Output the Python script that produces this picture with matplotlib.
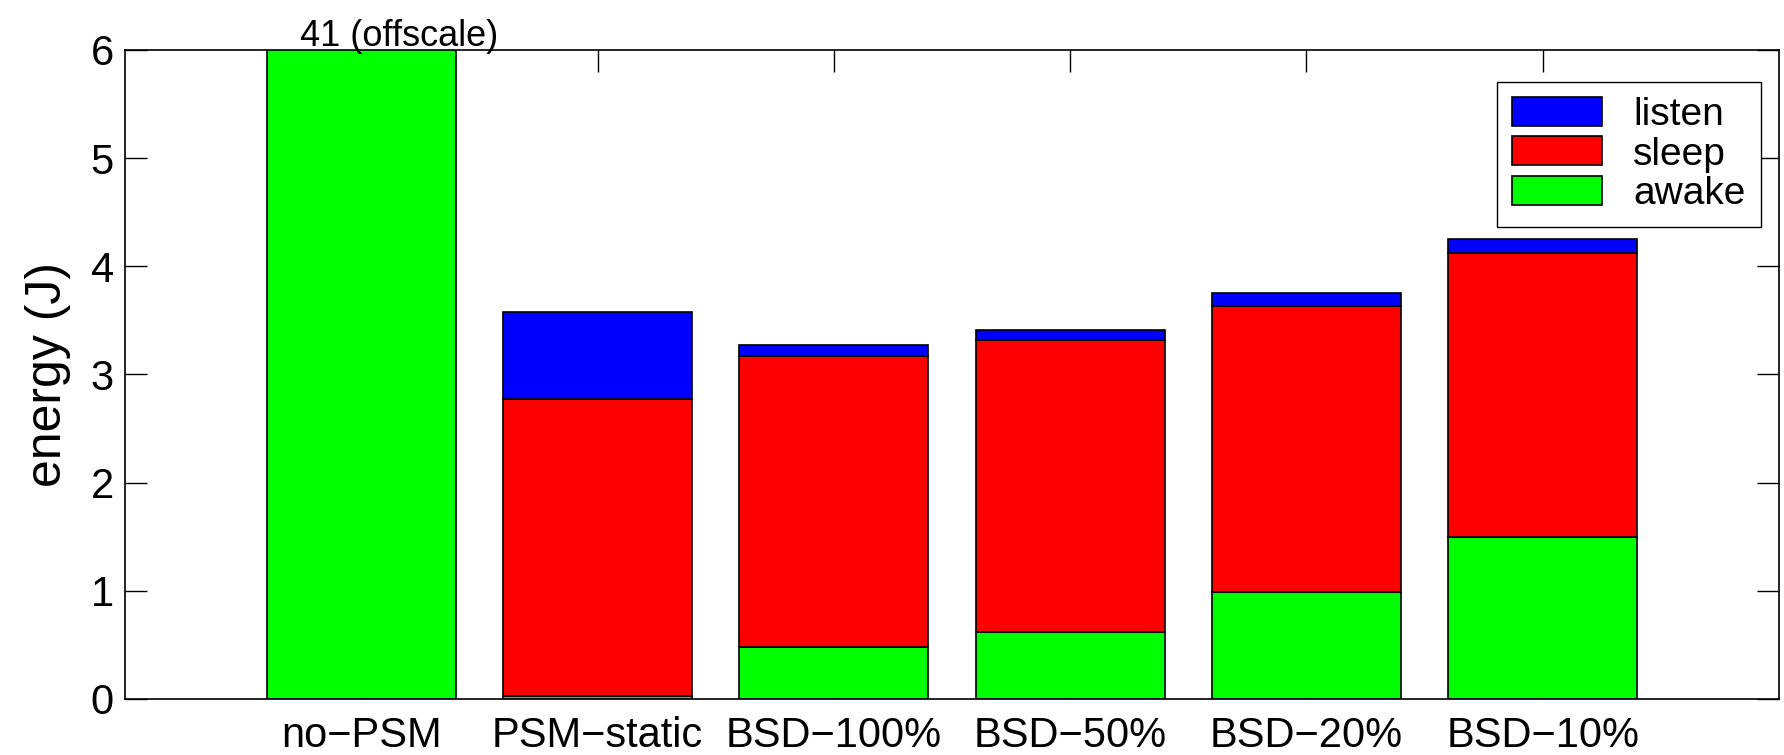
import matplotlib
matplotlib.use("Agg")
import matplotlib.pyplot as plt
import numpy as np

plt.rcParams['font.family'] = ['Liberation Sans', 'DejaVu Sans']

schemes = ["no\u2212PSM", "PSM\u2212static", "BSD\u2212100%", "BSD\u221250%", "BSD\u221220%", "BSD\u221210%"]
awake = [41.0, 0.03, 0.48, 0.62, 0.99, 1.50]
sleep = [0.0, 2.74, 2.69, 2.70, 2.64, 2.62]
listen = [0.0, 0.81, 0.10, 0.09, 0.12, 0.13]

fig = plt.figure(figsize=(17.84, 7.55), dpi=100)
ax = fig.add_axes([0.0701, 0.0742, 0.9271, 0.8596])
ax.set_axisbelow(True)

x = np.arange(1, len(schemes) + 1)
awake = np.array(awake)
sleep = np.array(sleep)
listen = np.array(listen)

b1 = ax.bar(x, awake, 0.8, color='#00ff00', edgecolor='black', linewidth=1.2, label='awake')
b2 = ax.bar(x, sleep, 0.8, bottom=awake, color='#ff0000', edgecolor='black', linewidth=1.2, label='sleep')
b3 = ax.bar(x, listen, 0.8, bottom=awake + sleep, color='#0000ff', edgecolor='black', linewidth=1.2, label='listen')

ax.set_xlim(0, 7)
ax.set_ylim(0, 6)
ax.set_xticks(x)
ax.set_xticklabels(schemes)
ax.set_yticks(range(7))
ax.tick_params(direction='in', length=16, width=1, top=True, right=True,
               labelsize=30)
ax.tick_params(axis='y', pad=8)
ax.tick_params(axis='x', pad=12)
for s in ax.spines.values():
    s.set_linewidth(1.2)
ax.set_ylabel('energy (J)', fontsize=36, labelpad=14)

# first bar is far taller than the axis
ax.text(0.74, 6.04, '41 (offscale)', fontsize=26, ha='left', va='baseline', clip_on=False)

leg = ax.legend([b3, b2, b1], ['listen', 'sleep', 'awake'], loc='upper right',
                bbox_to_anchor=(0.989, 0.951), borderaxespad=0, fontsize=28,
                fancybox=False, edgecolor='black', framealpha=1,
                handlelength=2.3, handleheight=0.77, labelspacing=0.08,
                handletextpad=0.8, borderpad=0.4)
leg.get_frame().set_linewidth(1)

fig.savefig('out.png', dpi=100)
